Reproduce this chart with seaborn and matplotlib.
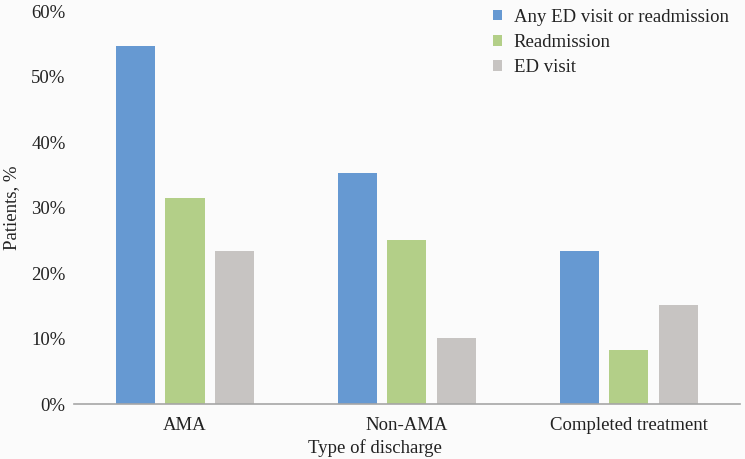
import matplotlib
matplotlib.use("Agg")
import matplotlib.pyplot as plt
import seaborn as sns
import pandas as pd
from matplotlib.ticker import FuncFormatter

categories = ["AMA", "Non-AMA", "Completed treatment"]
series_names = ["Any ED visit or readmission", "Readmission", "ED visit"]
any_visit = [54.7, 35.3, 23.3]
readmission = [31.4, 25.1, 8.2]
ed_visit = [23.3, 10.1, 15.1]
colors = ["#6699D2", "#B3CF88", "#C7C4C2"]
yticks = [0, 10, 20, 30, 40, 50, 60]

rows = []
for name, vals in zip(series_names, [any_visit, readmission, ed_visit]):
    for c, v in zip(categories, vals):
        rows.append({"Type of discharge": c, "Series": name, "Value": v})
df = pd.DataFrame(rows)

sns.set_theme(style="white")
plt.rcParams["font.family"] = ["Liberation Serif", "DejaVu Serif"]
bg = "#FBFBFB"
fs = 13.5

fig = plt.figure(figsize=(7.45, 4.59), dpi=100, facecolor=bg)
ax = fig.add_axes([0.0993, 0.1198, 0.8937, 0.8562])
ax.set_facecolor(bg)

sns.barplot(data=df, x="Type of discharge", y="Value", hue="Series",
            order=categories, hue_order=series_names, palette=colors,
            width=0.67, gap=0.21, ax=ax, saturation=1, edgecolor="none")

ax.set_ylim(0, 60)
ax.set_xlim(-0.5, 2.5)
ax.set_yticks(yticks)
ax.yaxis.set_major_formatter(FuncFormatter(lambda v, p: f"{int(v)}%"))
ax.tick_params(axis="both", length=0, labelsize=fs, colors="#222222")
ax.tick_params(axis="y", pad=6)
ax.tick_params(axis="x", pad=9)
for s in ["top", "right", "left"]:
    ax.spines[s].set_visible(False)
ax.spines["bottom"].set_color("#A6A6A6")
ax.spines["bottom"].set_linewidth(1.2)

ax.set_ylabel("Patients, %", fontsize=fs, color="#222222", labelpad=8)
ax.set_xlabel("")
fig.text(375 / 745, 1 - 448 / 459, "Type of discharge", fontsize=fs,
         color="#222222", ha="center", va="center")

leg = ax.legend(loc="upper right", bbox_to_anchor=(1.0, 1.035), frameon=False,
                fontsize=fs, handlelength=0.5, handleheight=0.5,
                handletextpad=0.6, labelspacing=0.45, borderaxespad=0.2)
for t in leg.get_texts():
    t.set_color("#222222")

fig.savefig("out.png", dpi=100, facecolor=bg)
